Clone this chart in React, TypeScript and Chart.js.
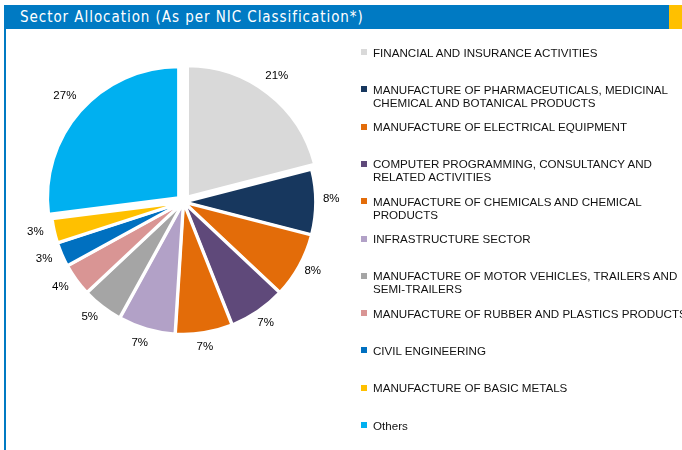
import React, { useEffect, useRef } from "react";
import { Chart, registerables } from "chart.js";

Chart.register(...registerables);

const title = "Sector Allocation (As per NIC Classification*)";

const categories = [
  "FINANCIAL AND INSURANCE ACTIVITIES",
  "MANUFACTURE OF PHARMACEUTICALS, MEDICINAL\nCHEMICAL AND BOTANICAL PRODUCTS",
  "MANUFACTURE OF ELECTRICAL EQUIPMENT",
  "COMPUTER PROGRAMMING, CONSULTANCY AND\nRELATED ACTIVITIES",
  "MANUFACTURE OF CHEMICALS AND CHEMICAL\nPRODUCTS",
  "INFRASTRUCTURE SECTOR",
  "MANUFACTURE OF MOTOR VEHICLES, TRAILERS AND\nSEMI-TRAILERS",
  "MANUFACTURE OF RUBBER AND PLASTICS PRODUCTS",
  "CIVIL ENGINEERING",
  "MANUFACTURE OF BASIC METALS",
  "Others",
];

const values = [21, 8, 8, 7, 7, 7, 5, 4, 3, 3, 27];

const colors = [
  "#D9D9D9",
  "#17375E",
  "#E36C09",
  "#5F497A",
  "#E36C09",
  "#B2A1C7",
  "#A5A5A5",
  "#D99594",
  "#0070C0",
  "#FFC000",
  "#00B0F0",
];

// Chart.js translates an arc by offset / 4 pixels
const explode = [26, 3, 3, 3, 3, 3, 3, 3, 3, 3, 26];

const labelPlugin = {
  id: "pctLabels",
  afterDatasetsDraw(chart: any) {
    const ctx = chart.ctx;
    const meta = chart.getDatasetMeta(0);
    const ds = chart.data.datasets[0];
    ctx.save();
    ctx.font = "11.5px 'Liberation Sans', Arial, sans-serif";
    ctx.fillStyle = "#000";
    ctx.textAlign = "center";
    ctx.textBaseline = "middle";
    meta.data.forEach((arc: any, i: number) => {
      const mid = (arc.startAngle + arc.endAngle) / 2;
      const off = ((ds.offset as number[])[i] || 0) / 4;
      const d = arc.outerRadius + off + 18;
      const x = arc.x + Math.cos(mid) * d - 2;
      const y = arc.y + Math.sin(mid) * d - 3;
      ctx.fillText(values[i] + "%", x, y);
    });
    ctx.restore();
  },
};

export default function App() {
  const ref = useRef<HTMLCanvasElement>(null);
  useEffect(() => {
    if (!ref.current) return;
    const chart = new Chart(ref.current, {
      type: "pie",
      data: {
        labels: categories,
        datasets: [
          {
            data: values,
            backgroundColor: colors,
            borderColor: "#FFFFFF",
            borderWidth: 3,
            offset: explode,
            radius: 131,
          } as any,
        ],
      },
      options: {
        animation: false,
        responsive: false,
        maintainAspectRatio: false,
        layout: { padding: 0 },
        plugins: {
          legend: { display: false },
          tooltip: { enabled: false },
        },
      },
      plugins: [labelPlugin],
    });
    return () => chart.destroy();
  }, []);

  return (
    <div
      style={{
        position: "absolute",
        left: 0,
        top: 0,
        width: 682,
        height: 450,
        background: "#fff",
        overflow: "hidden",
      }}
    >
      <div
        style={{
          position: "absolute",
          left: 4,
          top: 5,
          width: 665,
          height: 24,
          background: "#007AC3",
        }}
      />
      <div
        style={{
          position: "absolute",
          left: 669,
          top: 5,
          width: 13,
          height: 24,
          background: "#FFC000",
        }}
      />
      <div
        style={{
          position: "absolute",
          left: 4,
          top: 29,
          width: 2,
          height: 421,
          background: "#007AC3",
        }}
      />
      <div
        style={{
          position: "absolute",
          left: 20,
          top: 5,
          height: 24,
          lineHeight: "24px",
          color: "#fff",
          fontFamily: "'DejaVu Sans Condensed', 'Liberation Sans Narrow', sans-serif",
          fontSize: 15,
          letterSpacing: "0.95px",
          whiteSpace: "nowrap",
        }}
      >
        {title}
      </div>
      <canvas
        ref={ref}
        width={367}
        height={344}
        style={{ position: "absolute", left: 0, top: 30, width: 367, height: 344 }}
      />
      {categories.map((c, i) => (
        <div
          key={i}
          style={{
            position: "absolute",
            left: 361,
            top: 45.5 + i * 37.3,
            whiteSpace: "pre",
            fontFamily: "'Liberation Sans', Arial, sans-serif",
            fontSize: 11.6,
            lineHeight: "13px",
            color: "#111",
          }}
        >
          <span
            style={{
              position: "absolute",
              left: 0,
              top: 3.5,
              width: 6,
              height: 6,
              background: colors[i],
            }}
          />
          <div style={{ marginLeft: 12 }}>{c}</div>
        </div>
      ))}
    </div>
  );
}
